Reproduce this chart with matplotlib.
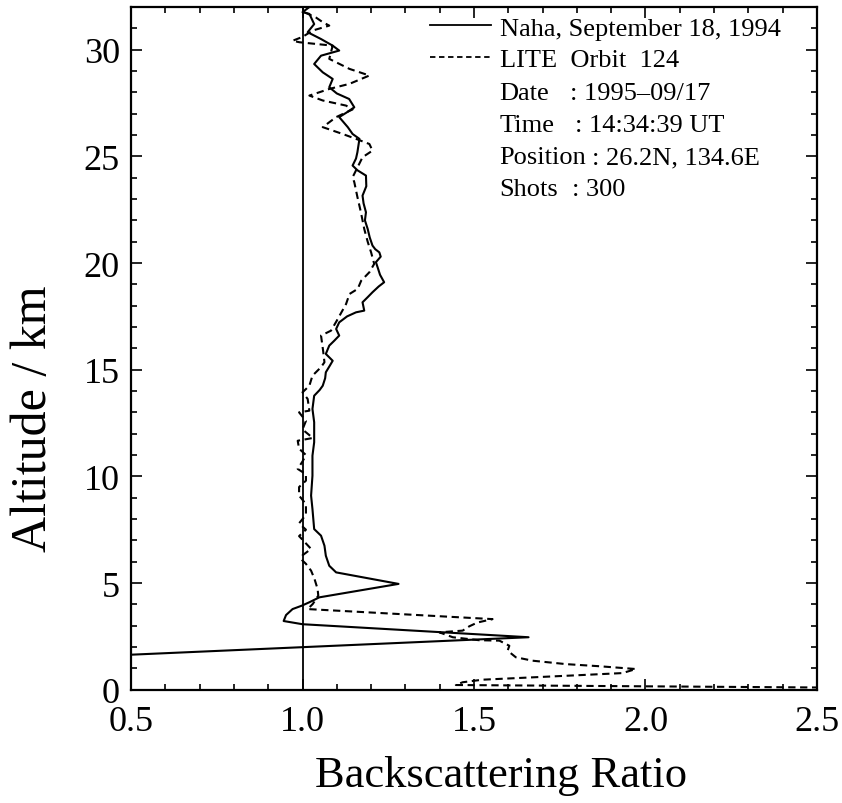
import matplotlib
matplotlib.use("Agg")
import matplotlib.pyplot as plt
from matplotlib.ticker import MultipleLocator
from matplotlib.lines import Line2D

plt.rcParams['font.family'] = ['Liberation Serif', 'DejaVu Serif']

# Naha lidar profile (backscattering ratio, altitude km)
naha_ratio = [0.30, 1.659, 1.000, 0.945, 0.952, 0.971, 0.998, 1.020, 1.049, 1.280,
              1.098, 1.078, 1.068, 1.064, 1.054, 1.034, 1.029, 1.025, 1.029, 1.029,
              1.034, 1.034, 1.029, 1.034, 1.050, 1.059, 1.066, 1.068, 1.080, 1.088,
              1.068, 1.078, 1.092, 1.107, 1.098, 1.107, 1.130, 1.156, 1.180, 1.175,
              1.190, 1.204, 1.222, 1.238, 1.226, 1.219, 1.214, 1.228, 1.224, 1.212,
              1.204, 1.196, 1.190, 1.182, 1.185, 1.178, 1.175, 1.186, 1.185, 1.160,
              1.146, 1.156, 1.160, 1.166, 1.146, 1.132, 1.107, 1.128, 1.151, 1.136,
              1.100, 1.078, 1.088, 1.059, 1.034, 1.054, 1.107, 1.088, 1.054, 1.015,
              1.034, 1.020, 1.000, 1.020]
naha_alt = [1.50, 2.46, 3.07, 3.22, 3.50, 3.78, 3.94, 4.10, 4.33, 4.96,
            5.50, 5.81, 6.28, 6.75, 7.22, 7.53, 8.47, 9.10, 10.03, 10.97,
            11.60, 12.54, 13.16, 13.78, 14.05, 14.25, 14.60, 14.88, 15.20, 15.42,
            15.74, 16.13, 16.35, 16.60, 16.91, 17.22, 17.50, 17.69, 17.77, 18.16,
            18.40, 18.63, 18.90, 19.10, 19.45, 19.80, 20.04, 20.30, 20.50, 20.65,
            20.82, 21.20, 21.60, 22.00, 22.38, 22.80, 23.16, 23.60, 24.10, 24.35,
            24.57, 24.90, 25.19, 25.82, 26.05, 26.37, 26.84, 27.05, 27.30, 27.69,
            27.95, 28.24, 28.63, 28.94, 29.33, 29.72, 29.96, 30.19, 30.50, 30.82,
            31.20, 31.68, 31.76, 32.00]

# LITE orbit 124 profile
lite_ratio = [3.00, 1.447, 1.467, 1.525, 1.671, 1.817, 1.933, 1.972, 1.866, 1.768,
              1.671, 1.622, 1.598, 1.603, 1.574, 1.515, 1.438, 1.399, 1.467, 1.486,
              1.510, 1.554, 1.015, 1.030, 1.046, 1.044, 1.035, 1.025, 1.010, 0.997,
              1.000, 1.025, 0.990, 1.010, 0.990, 1.010, 1.010, 0.990, 0.990, 1.010,
              1.010, 0.986, 1.000, 1.010, 0.990, 0.986, 1.030, 1.000, 1.010, 0.990,
              1.020, 1.015, 1.000, 1.020, 1.029, 1.054, 1.064, 1.060, 1.054, 1.083,
              1.100, 1.127, 1.137, 1.161, 1.171, 1.195, 1.209, 1.200, 1.190, 1.180,
              1.170, 1.160, 1.151, 1.146, 1.175, 1.204, 1.195, 1.156, 1.117, 1.059,
              1.098, 1.146, 1.127, 1.059, 1.020, 1.078, 1.137, 1.195, 1.137, 1.078,
              1.088, 1.039, 0.991, 0.971, 1.000, 1.030, 1.078, 1.059, 1.040, 1.000]
lite_alt = [0.05, 0.22, 0.35, 0.47, 0.58, 0.69, 0.78, 0.97, 1.10, 1.20,
            1.36, 1.52, 1.83, 2.06, 2.30, 2.32, 2.46, 2.69, 2.77, 2.97,
            3.15, 3.31, 3.78, 4.02, 4.41, 4.72, 5.19, 5.58, 5.90, 6.10,
            6.30, 6.60, 7.20, 7.50, 7.80, 8.20, 8.70, 9.10, 9.50, 9.80,
            10.10, 10.35, 10.70, 11.00, 11.30, 11.67, 11.80, 12.20, 12.60, 13.00,
            13.08, 13.63, 13.94, 14.25, 14.72, 15.12, 15.35, 15.90, 16.60, 16.83,
            17.30, 18.08, 18.55, 18.79, 19.17, 19.57, 19.96, 20.50, 21.00, 21.60,
            22.40, 23.10, 23.79, 24.02, 24.96, 25.27, 25.58, 25.82, 26.05, 26.37,
            26.84, 27.20, 27.38, 27.62, 27.85, 28.16, 28.40, 28.79, 29.10, 29.57,
            30.19, 30.27, 30.35, 30.42, 30.60, 30.90, 31.13, 31.29, 31.50, 31.80]

series_labels = ["Naha, September 18, 1994", "LITE  Orbit  124"]
info_labels = ["Date", "Time", "Position", "Shots"]
info_values = [": 1995\u201309/17", ": 14:34:39 UT", ": 26.2N, 134.6E", ": 300"]

fig = plt.figure(figsize=(8.42, 8.04), dpi=100)
ax = fig.add_axes([0.1556, 0.1409, 0.8147, 0.8491])

ax.axvline(1.0, color='black', lw=1.3)
ax.plot(naha_ratio, naha_alt, color='black', lw=1.5, solid_joinstyle='round')
ax.plot(lite_ratio, lite_alt, color='black', lw=1.5, ls=(0, (3.5, 2.2)))

ax.set_xlim(0.5, 2.5)
ax.set_ylim(0, 32)
ax.xaxis.set_major_locator(MultipleLocator(0.5))
ax.xaxis.set_minor_locator(MultipleLocator(0.1))
ax.yaxis.set_major_locator(MultipleLocator(5))
ax.yaxis.set_minor_locator(MultipleLocator(1))
ax.tick_params(which='both', direction='in', top=True, right=True, width=1.2)
ax.tick_params(which='major', length=8, labelsize=26)
ax.tick_params(axis='x', which='major', pad=11)
ax.tick_params(axis='y', which='major', pad=8)
ax.tick_params(which='minor', length=4.5)
ax.set_xticklabels([f"{v:.1f}" for v in ax.get_xticks()])
for s in ax.spines.values():
    s.set_linewidth(1.6)

ax.set_xlabel("Backscattering Ratio", fontsize=32)
ax.xaxis.set_label_coords(0.54, -0.095, transform=ax.transAxes)
ax.xaxis.label.set_va('top')
ax.set_ylabel("Altitude / km", fontsize=36)
ax.yaxis.set_label_coords(-0.108, 0.398, transform=ax.transAxes)

handles = [Line2D([], [], color='black', lw=1.3),
           Line2D([], [], color='black', lw=1.3, ls=(0, (3, 2)))]
ax.legend(handles, series_labels,
          loc='upper left', bbox_to_anchor=(0.436, 0.9868), frameon=False,
          fontsize=19, handlelength=2.3, handletextpad=0.35,
          labelspacing=0.3, borderpad=0, borderaxespad=0)

label_x = 0.537
value_x = [0.640, 0.647, 0.672, 0.643]
rows_y = [0.8740, 0.8271, 0.7802, 0.7334]
for lab, val, vx, ry in zip(info_labels, info_values, value_x, rows_y):
    ax.text(label_x, ry, lab, transform=ax.transAxes, fontsize=19, va='center', ha='left')
    ax.text(vx, ry, val, transform=ax.transAxes, fontsize=19, va='center', ha='left')

fig.savefig("out.png", dpi=100)
